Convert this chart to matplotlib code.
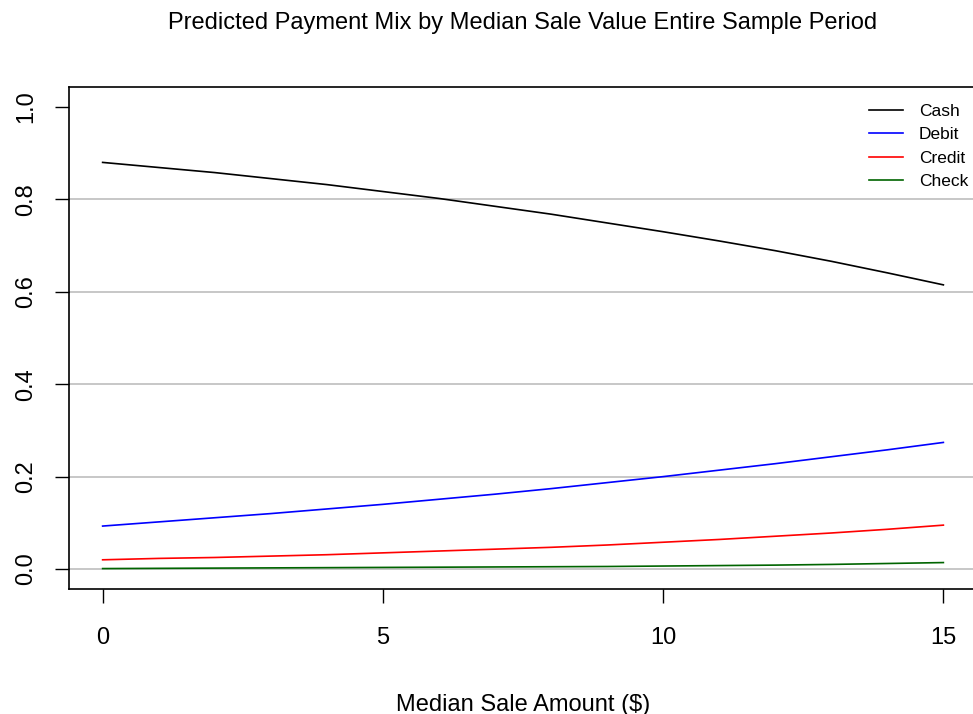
import matplotlib
matplotlib.use("Agg")
import matplotlib.pyplot as plt

plt.rcParams['font.family'] = ['Liberation Sans', 'DejaVu Sans']

amount = list(range(16))
cash = [0.880, 0.869, 0.858, 0.845, 0.832, 0.817, 0.802, 0.785, 0.768, 0.749,
        0.730, 0.710, 0.689, 0.666, 0.641, 0.615]
debit = [0.093, 0.102, 0.111, 0.120, 0.130, 0.140, 0.151, 0.162, 0.174, 0.187,
         0.200, 0.214, 0.228, 0.243, 0.258, 0.274]
credit = [0.020, 0.023, 0.025, 0.028, 0.031, 0.035, 0.039, 0.043, 0.047, 0.052,
          0.058, 0.064, 0.071, 0.078, 0.086, 0.095]
check = [0.001, 0.0015, 0.002, 0.0025, 0.003, 0.0035, 0.004, 0.0045, 0.005, 0.0055,
         0.0065, 0.0075, 0.0085, 0.010, 0.012, 0.014]
series_names = ["Cash", "Debit", "Credit", "Check"]
series_colors = ["black", "blue", "red", "darkgreen"]
grid_levels = [0.0, 0.2, 0.4, 0.6, 0.8]
xticks = [0, 5, 10, 15]
yticks = [0.0, 0.2, 0.4, 0.6, 0.8, 1.0]

W, H = 973, 714
fig = plt.figure(figsize=(W / 100, H / 100), dpi=100)
left, right, top, bottom = 69, 977, 87, 589
ax = fig.add_axes([left / W, 1 - bottom / H, (right - left) / W, (bottom - top) / H])
ax.set_xlim(-0.6, 15.6)
ax.set_ylim(-0.0432, 1.0432)

for g in grid_levels:
    ax.axhline(g, color="#bebebe", lw=1.2, zorder=1)

for vals, name, col in zip([cash, debit, credit, check], series_names, series_colors):
    ax.plot(amount, vals, color=col, lw=1.2, label=name, zorder=3)

ax.set_xticks(xticks)
ax.set_xticklabels([str(t) for t in xticks])
ax.set_yticks(yticks)
ax.set_yticklabels([f"{t:.1f}" for t in yticks], rotation=90, va="center")
ax.tick_params(axis="both", direction="out", length=10, width=1, labelsize=17)
ax.tick_params(axis="x", pad=17.5)
ax.tick_params(axis="y", pad=13)
for s in ax.spines.values():
    s.set_linewidth(1.2)

ax.set_xlabel("Median Sale Amount ($)", fontsize=17, labelpad=32)
fig.text(523 / W, 1 - 23 / H, "Predicted Payment Mix by Median Sale Value Entire Sample Period",
         ha="center", va="center", fontsize=17)

leg = ax.legend(loc="upper right", bbox_to_anchor=((968 - left) / (right - left), 1 - (104 - top) / (bottom - top)),
                frameon=False, fontsize=12.5, handlelength=1.95, handletextpad=0.92,
                labelspacing=0.47, borderaxespad=0, borderpad=0)
for line in leg.get_lines():
    line.set_linewidth(1.2)

fig.savefig("out.png", dpi=100)
